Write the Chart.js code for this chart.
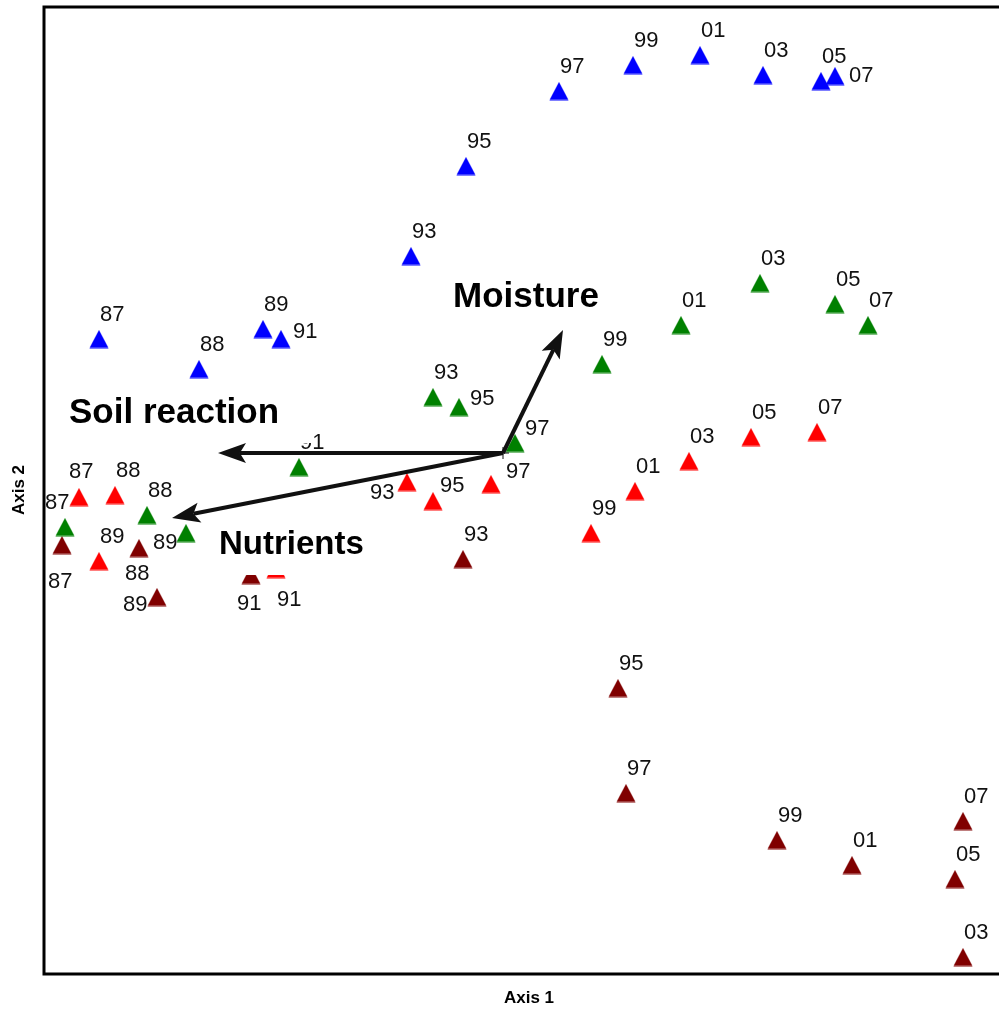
<!DOCTYPE html>
<html>
<head>
<meta charset="utf-8">
<script src="https://cdn.jsdelivr.net/npm/chart.js@4"></script>
<style>
  html, body { margin: 0; padding: 0; background: #fff; overflow: hidden; }
  #wrap { width: 999px; height: 1010px; position: relative; }
</style>
</head>
<body>
<div id="wrap"><canvas id="chart"></canvas></div>
<script>
// years sampled (same order for all four series)
const years = ['87','88','89','91','93','95','97','99','01','03','05','07'];

// ordination scores
const blueX = [-2.02, -1.52, -1.20, -1.11, -0.46, -0.185, 0.28, 0.65, 0.985, 1.30, 1.59, 1.66];
const blueY = [0.57, 0.42, 0.62, 0.57, 0.985, 1.435, 1.81, 1.94, 1.99, 1.89, 1.86, 1.885];

const greenX = [-2.19, -1.78, -1.585, -1.02, -0.35, -0.22, 0.06, 0.495, 0.89, 1.285, 1.66, 1.825];
const greenY = [-0.37, -0.31, -0.40, -0.07, 0.28, 0.23, 0.05, 0.445, 0.64, 0.85, 0.745, 0.64];

const redX = [-2.12, -1.94, -2.02, -1.135, -0.48, -0.35, -0.06, 0.44, 0.66, 0.93, 1.24, 1.57];
const redY = [-0.22, -0.21, -0.54, -0.58, -0.145, -0.24, -0.155, -0.40, -0.19, -0.04, 0.08, 0.105];

const darkRedX = [-2.205, -1.82, -1.73, -1.26, -0.20, 0.575, 0.615, 1.37, 1.745, 2.30, 2.26, 2.30];
const darkRedY = [-0.46, -0.475, -0.72, -0.61, -0.53, -1.175, -1.70, -1.935, -2.06, -2.52, -2.13, -1.84];

// fitted environmental vectors (from origin)
const vectorNames = ['Moisture', 'Soil reaction', 'Nutrients'];
const vectorX = [0.30, -1.425, -1.655];
const vectorY = [0.615, 0, -0.325];

const axisTitles = ['Axis 1', 'Axis 2'];

// ---- styling / placement (not data) ----
const seriesColors = ['#0000ff', '#008000', '#ff0000', '#800000'];
// label offsets in px: [dx to text left, dy to text middle]; default is up-right
const labelOffsets = {
  '0:91': [12, -7], '0:07': [14, 0],
  '1:87': [-20, -24], '1:89': [-33, 10], '1:95': [11, -8], '1:97': [10, -14],
  '2:87': [-10, -25], '2:91': [1, 31], '2:93': [-37, 11], '2:95': [7, -15], '2:97': [15, -12],
  '3:87': [-14, 37], '3:88': [-14, 26], '3:89': [-34, 8], '3:91': [-14, 29]
};
// vector caption: [dx, dy from arrow tip, font px, box pad left, box pad right]
const vectorLabelPos = [[-110, -33, 35, 18, 18], [-149, -40, 35, 15, 34], [47, 27, 33, 18, 18]];

function triangleImage(color) {
  const c = document.createElement('canvas');
  c.width = 20; c.height = 19;
  const g = c.getContext('2d');
  g.fillStyle = color;
  g.beginPath();
  g.moveTo(10, 0.5);
  g.lineTo(19.5, 18.5);
  g.lineTo(0.5, 18.5);
  g.closePath();
  g.fill();
  return c;
}

function pairs(xs, ys) {
  return xs.map((x, i) => ({ x: x, y: ys[i] }));
}

const sets = [[blueX, blueY], [greenX, greenY], [redX, redY], [darkRedX, darkRedY]];

const framePlugin = {
  id: 'frame',
  afterDraw(chart) {
    const { ctx, chartArea: a } = chart;
    ctx.save();
    ctx.strokeStyle = '#000';
    ctx.lineWidth = 3;
    ctx.beginPath();
    ctx.moveTo(a.right + 5, a.top);
    ctx.lineTo(a.left + 1, a.top);
    ctx.lineTo(a.left + 1, a.bottom);
    ctx.lineTo(a.right + 5, a.bottom);
    ctx.stroke();
    // axis titles
    ctx.fillStyle = '#000';
    ctx.font = 'bold 17px "Liberation Sans", Arial, sans-serif';
    ctx.textAlign = 'center';
    ctx.textBaseline = 'middle';
    ctx.fillText(axisTitles[0], 529, 998);
    ctx.translate(19, 490);
    ctx.rotate(-Math.PI / 2);
    ctx.fillText(axisTitles[1], 0, 0);
    ctx.restore();
  }
};

const overlayPlugin = {
  id: 'overlay',
  afterDatasetsDraw(chart) {
    const ctx = chart.ctx;
    const xs = chart.scales.x, ys = chart.scales.y;
    ctx.save();
    // point labels
    ctx.font = '22px "Liberation Sans", Arial, sans-serif';
    ctx.fillStyle = '#111';
    ctx.textAlign = 'left';
    ctx.textBaseline = 'middle';
    chart.data.datasets.forEach((ds, si) => {
      chart.getDatasetMeta(si).data.forEach((pt, j) => {
        const off = labelOffsets[si + ':' + years[j]] || [1, -24];
        ctx.fillText(years[j], pt.x + off[0], pt.y + off[1]);
      });
    });

    const ox = xs.getPixelForValue(0), oy = ys.getPixelForValue(0);

    // vector captions on white boxes
    vectorNames.forEach((name, k) => {
      const tx = xs.getPixelForValue(vectorX[k]), ty = ys.getPixelForValue(vectorY[k]);
      const p = vectorLabelPos[k];
      ctx.font = 'bold ' + p[2] + 'px "Liberation Sans", Arial, sans-serif';
      const lx = tx + p[0], ly = ty + p[1];
      const w = ctx.measureText(name).width;
      ctx.fillStyle = '#fff';
      ctx.fillRect(lx - p[3], ly - 30, w + p[3] + p[4], 60);
      ctx.fillStyle = '#000';
      ctx.fillText(name, lx, ly);
    });

    // arrows
    ctx.strokeStyle = '#111';
    ctx.fillStyle = '#111';
    ctx.lineWidth = 4;
    vectorNames.forEach((name, k) => {
      const tx = xs.getPixelForValue(vectorX[k]), ty = ys.getPixelForValue(vectorY[k]);
      const ang = Math.atan2(ty - oy, tx - ox);
      const L = 28, H = 10;
      const bx = tx - Math.cos(ang) * L * 0.78, by = ty - Math.sin(ang) * L * 0.78;
      ctx.beginPath();
      ctx.moveTo(ox, oy);
      ctx.lineTo(bx, by);
      ctx.stroke();
      const cx = tx - Math.cos(ang) * L, cy = ty - Math.sin(ang) * L;
      ctx.beginPath();
      ctx.moveTo(tx, ty);
      ctx.lineTo(cx - Math.sin(ang) * H, cy + Math.cos(ang) * H);
      ctx.lineTo(bx, by);
      ctx.lineTo(cx + Math.sin(ang) * H, cy - Math.cos(ang) * H);
      ctx.closePath();
      ctx.fill();
    });
    // small cross at origin
    ctx.lineWidth = 1;
    ctx.beginPath();
    ctx.moveTo(ox - 6, oy); ctx.lineTo(ox + 6, oy);
    ctx.moveTo(ox, oy - 6); ctx.lineTo(ox, oy + 6);
    ctx.stroke();
    ctx.restore();
  }
};

new Chart(document.getElementById('chart'), {
  type: 'scatter',
  data: {
    datasets: sets.map((s, i) => ({
      label: 'series ' + (i + 1),
      data: pairs(s[0], s[1]),
      pointStyle: triangleImage(seriesColors[i]),
      backgroundColor: seriesColors[i],
      borderColor: seriesColors[i],
      clip: false
    }))
  },
  options: {
    responsive: true,
    maintainAspectRatio: false,
    animation: false,
    layout: { autoPadding: false, padding: { left: 43, top: 7, right: 0, bottom: 36 } },
    scales: {
      x: { type: 'linear', min: -2.3, max: 2.48, display: false },
      y: { type: 'linear', min: -2.605, max: 2.23, display: false }
    },
    plugins: { legend: { display: false }, tooltip: { enabled: false } },
    events: []
  },
  plugins: [framePlugin, overlayPlugin]
});
</script>
</body>
</html>
